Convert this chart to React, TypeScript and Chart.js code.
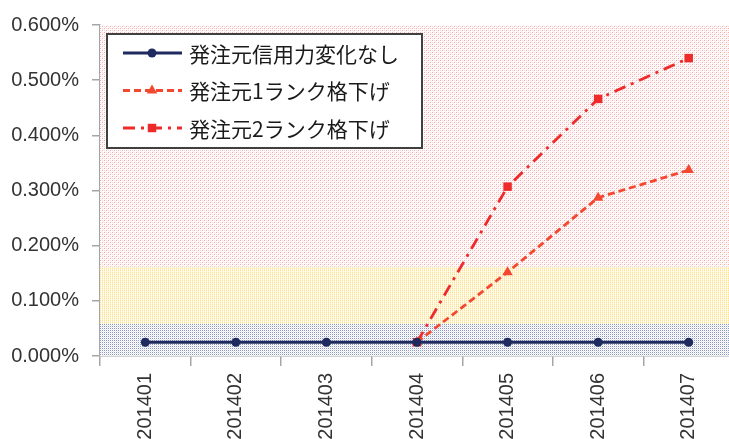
import React, { useEffect, useRef } from 'react';
import { Chart, registerables } from 'chart.js';
Chart.register(...registerables);

const categories = ['201401', '201402', '201403', '201404', '201405', '201406', '201407'];
const seriesLabels = ['発注元信用力変化なし', '発注元1ランク格下げ', '発注元2ランク格下げ'];
const noChange = [0.025, 0.025, 0.025, 0.025, 0.025, 0.025, 0.025];
const downOne = [null, null, null, 0.025, 0.152, 0.287, 0.337];
const downTwo = [null, null, null, 0.025, 0.307, 0.466, 0.540];
const yMin = 0;
const yMax = 0.6;
const yStep = 0.1;
const bandLimits = [0.058, 0.162];

function makePattern(ctx: CanvasRenderingContext2D, px: string[][]) {
  const t = document.createElement('canvas');
  t.width = px[0].length;
  t.height = px.length;
  const tc = t.getContext('2d')!;
  px.forEach((row, y) => row.forEach((col, x) => { tc.fillStyle = col; tc.fillRect(x, y, 1, 1); }));
  return ctx.createPattern(t, 'repeat')!;
}

function drawMarker(c: CanvasRenderingContext2D, style: string, x: number, y: number, r: number, color: string) {
  c.fillStyle = color;
  c.beginPath();
  if (style === 'circle') {
    c.arc(x, y, r, 0, Math.PI * 2);
  } else if (style === 'triangle') {
    c.moveTo(x, y - r);
    c.lineTo(x + r * Math.sin(Math.PI / 3), y + r / 2);
    c.lineTo(x - r * Math.sin(Math.PI / 3), y + r / 2);
    c.closePath();
  } else {
    const s = r * Math.SQRT1_2;
    c.rect(x - s, y - s, 2 * s, 2 * s);
  }
  c.fill();
}

export default function App() {
  const ref = useRef<HTMLCanvasElement>(null);
  useEffect(() => {
    const canvas = ref.current!;
    const ctx = canvas.getContext('2d')!;
    const W = '#ffffff';
    const redPat = makePattern(ctx, [
      ['#f5a8a8', W, '#fbd6d6', W],
      [W, W, W, '#fdeaea'],
      ['#fbd6d6', W, '#f5a8a8', W],
      [W, '#fdeaea', W, W],
    ]);
    const yellowPat = makePattern(ctx, [
      ['#ffe08c', '#fffcf4'],
      ['#fff1c8', '#fffcf4'],
    ]);
    const bluePat = makePattern(ctx, [
      ['#8d96bc', W],
      [W, '#e4e7f0'],
    ]);

    const bandPlugin = {
      id: 'bands',
      beforeDatasetsDraw(chart: any) {
        const { ctx: c, chartArea: a, scales } = chart;
        const ys = scales.y;
        const y0 = ys.getPixelForValue(yMin);
        const y1 = ys.getPixelForValue(bandLimits[0]);
        const y2 = ys.getPixelForValue(bandLimits[1]);
        const y3 = ys.getPixelForValue(yMax);
        c.save();
        c.fillStyle = bluePat;
        c.fillRect(a.left, y1, a.right - a.left, y0 - y1);
        c.fillStyle = yellowPat;
        c.fillRect(a.left, y2, a.right - a.left, y1 - y2);
        c.fillStyle = redPat;
        c.fillRect(a.left, y3, a.right - a.left, y2 - y3);
        c.restore();
      },
    };

    const legendPlugin = {
      id: 'boxLegend',
      afterDraw(chart: any) {
        const c = chart.ctx as CanvasRenderingContext2D;
        c.save();
        const x0 = 107, y0 = 34, w = 315, h = 114;
        c.fillStyle = '#ffffff';
        c.fillRect(x0, y0, w, h);
        c.lineWidth = 2;
        c.strokeStyle = '#404040';
        c.strokeRect(x0, y0, w, h);
        chart.data.datasets.forEach((ds: any, i: number) => {
          const y = 53 + i * 37.5;
          c.setLineDash(ds.borderDash || []);
          c.strokeStyle = ds.borderColor;
          c.lineWidth = ds.borderWidth;
          c.beginPath();
          c.moveTo(123, y);
          c.lineTo(182, y);
          c.stroke();
          c.setLineDash([]);
          drawMarker(c, ds.pointStyle, 152, y, ds.pointRadius, ds.borderColor);
          c.fillStyle = '#1a1a1a';
          c.font = '21px "Noto Sans CJK JP"';
          c.textBaseline = 'middle';
          c.textAlign = 'left';
          c.fillText(ds.label, 189, y + 1);
        });
        c.restore();
      },
    };

    const chart = new Chart(ctx, {
      type: 'line',
      data: {
        labels: categories,
        datasets: [
          {
            label: seriesLabels[0],
            data: noChange,
            borderColor: '#1f2a5e',
            backgroundColor: '#1f2a5e',
            borderWidth: 3,
            pointStyle: 'circle',
            pointRadius: 4.5,
            pointBackgroundColor: '#1f2a5e',
            pointBorderWidth: 0,
            tension: 0,
          },
          {
            label: seriesLabels[1],
            data: downOne,
            borderColor: '#f4472f',
            backgroundColor: '#f4472f',
            borderWidth: 2.8,
            borderDash: [7, 4],
            pointStyle: 'triangle',
            pointRadius: 6,
            pointBackgroundColor: '#f4472f',
            pointBorderWidth: 0,
            tension: 0,
          },
          {
            label: seriesLabels[2],
            data: downTwo,
            borderColor: '#ee2a2a',
            backgroundColor: '#ee2a2a',
            borderWidth: 2.8,
            borderDash: [12, 6, 3, 6],
            pointStyle: 'rect',
            pointRadius: 6,
            pointBackgroundColor: '#ee2a2a',
            pointBorderWidth: 0,
            tension: 0,
          },
        ] as any,
      },
      options: {
        animation: false,
        responsive: false,
        devicePixelRatio: 1,
        layout: { padding: { top: 20, right: 2, left: 0, bottom: 0 } },
        plugins: { legend: { display: false }, tooltip: { enabled: false } },
        scales: {
          x: {
            type: 'category',
            offset: true,
            grid: { offset: true, drawOnChartArea: false, drawTicks: true, tickLength: 10, color: '#a6a6a6', lineWidth: 1.5 },
            border: { color: '#a6a6a6', width: 1.5 },
            ticks: {
              minRotation: 90,
              maxRotation: 90,
              padding: 7,
              color: '#333333',
              font: { family: '"Liberation Sans", Arial, sans-serif', size: 20 },
            },
            afterFit: (s: any) => { s.height = 83; },
          },
          y: {
            min: yMin,
            max: yMax,
            ticks: {
              stepSize: yStep,
              padding: 13,
              color: '#333333',
              font: { family: '"Liberation Sans", Arial, sans-serif', size: 20 },
              callback: (v: any) => Number(v).toFixed(3) + '%',
            },
            grid: { drawOnChartArea: false, drawTicks: true, tickLength: 8, color: '#a6a6a6', lineWidth: 1.5 },
            border: { color: '#a6a6a6', width: 1.5 },
            afterFit: (s: any) => { s.width = 100; },
          },
        },
      },
      plugins: [bandPlugin, legendPlugin],
    });
    return () => chart.destroy();
  }, []);
  return (
    <div style={{ position: 'absolute', left: 0, top: 0, width: 729, height: 439, overflow: 'hidden', background: '#fff' }}>
      <canvas ref={ref} width={740} height={439} style={{ display: 'block', width: 740, height: 439 }} />
    </div>
  );
}
